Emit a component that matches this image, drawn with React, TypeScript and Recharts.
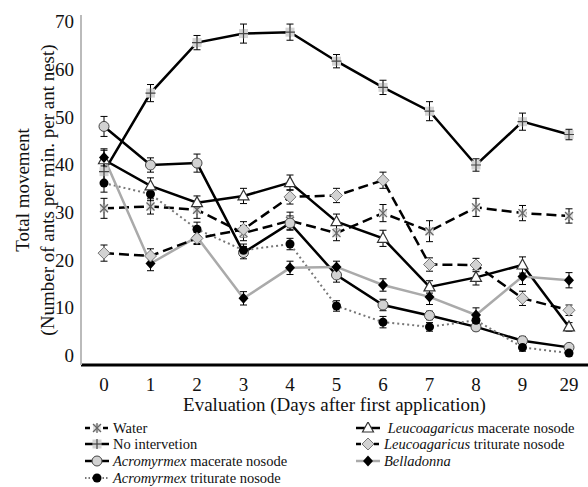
import React from 'react';
import { LineChart, Line, XAxis, YAxis, ErrorBar, Label } from 'recharts';

const days = ['0', '1', '2', '3', '4', '5', '6', '7', '8', '9', '29'];

const water = [30.8, 31.2, 30.5, 25.6, 28.2, 25.6, 29.8, 26.0, 31.0, 29.8, 29.2];
const waterErr = [2.1, 1.6, 1.8, 1.6, 1.8, 1.6, 1.8, 2.2, 1.9, 1.6, 1.5];
const noInt = [38.5, 55.0, 65.6, 67.5, 67.8, 61.7, 56.2, 51.2, 39.9, 49.0, 46.3];
const noIntErr = [2.3, 1.8, 1.5, 2.0, 1.7, 1.4, 1.5, 2.0, 1.3, 1.8, 1.1];
const acroMac = [48.0, 39.9, 40.3, 21.5, 27.7, 16.8, 10.5, 8.3, 5.9, 3.0, 1.6];
const acroMacErr = [2.1, 1.5, 1.9, 1.3, 1.5, 1.5, 1.2, 0.9, 0.8, 0.9, 0.6];
const acroTrit = [36.1, 33.8, 26.4, 22.0, 23.3, 10.3, 6.9, 5.9, 7.3, 1.6, 0.4];
const acroTritErr = [1.9, 1.4, 1.5, 1.3, 1.2, 1.1, 1.2, 0.9, 1.2, 0.8, 0.6];
const leucoMac = [41.0, 35.5, 32.0, 33.4, 36.2, 28.0, 24.5, 14.3, 16.3, 18.9, 5.9];
const leucoMacErr = [2.0, 1.7, 1.4, 1.6, 1.6, 1.6, 1.7, 1.3, 1.6, 1.7, 0.9];
const leucoTrit = [21.4, 20.8, 24.5, 26.4, 33.2, 33.5, 36.7, 19.0, 18.9, 11.9, 9.4];
const leucoTritErr = [1.7, 1.5, 1.3, 1.6, 1.5, 1.5, 1.7, 1.4, 1.4, 1.5, 1.1];
const bell = [41.5, 19.2, 24.8, 11.9, 18.3, 18.5, 14.7, 12.2, 8.4, 16.5, 15.7];
const bellErr = [1.8, 1.5, 1.4, 1.4, 1.4, 1.2, 1.3, 1.6, 1.5, 1.7, 1.6];

const yTicks = [0, 10, 20, 30, 40, 50, 60, 70];

const data = days.map((d, i) => ({
  day: d,
  water: water[i], waterErr: waterErr[i],
  noInt: noInt[i], noIntErr: noIntErr[i],
  acroMac: acroMac[i], acroMacErr: acroMacErr[i],
  acroTrit: acroTrit[i], acroTritErr: acroTritErr[i],
  leucoMac: leucoMac[i], leucoMacErr: leucoMacErr[i],
  leucoTrit: leucoTrit[i], leucoTritErr: leucoTritErr[i],
  bell: bell[i], bellErr: bellErr[i],
}));

const FONT = '"Liberation Serif", "DejaVu Serif", serif';

type Shape = (x: number, y: number) => React.ReactNode;

const asterisk: Shape = (x, y) => (
  <g>
    <rect x={x - 4} y={y - 4} width={8} height={8} fill="#e2e2e2" />
    <g stroke="#666" strokeWidth={1.3}>
      <line x1={x - 4} y1={y - 4} x2={x + 4} y2={y + 4} />
      <line x1={x - 4} y1={y + 4} x2={x + 4} y2={y - 4} />
      <line x1={x} y1={y - 5} x2={x} y2={y + 5} />
    </g>
  </g>
);
const plus: Shape = (x, y) => (
  <g>
    <rect x={x - 4.5} y={y - 4.5} width={9} height={9} fill="#d4d4d4" />
    <g stroke="#444" strokeWidth={1.2}>
      <line x1={x - 5} y1={y} x2={x + 5} y2={y} />
      <line x1={x} y1={y - 5} x2={x} y2={y + 5} />
    </g>
  </g>
);
const circleGray: Shape = (x, y) => <circle cx={x} cy={y} r={5} fill="#d2d2d2" stroke="#444" strokeWidth={1} />;
const circleBlack: Shape = (x, y) => <circle cx={x} cy={y} r={4.5} fill="#000" />;
const triangle: Shape = (x, y) => (
  <polygon points={`${x},${y - 6} ${x - 5.5},${y + 4} ${x + 5.5},${y + 4}`} fill="#fff" stroke="#333" strokeWidth={1.2} />
);
const diamondGray: Shape = (x, y) => (
  <polygon points={`${x},${y - 6} ${x + 6},${y} ${x},${y + 6} ${x - 6},${y}`} fill="#d2d2d2" stroke="#777" strokeWidth={1} />
);
const diamondBlack: Shape = (x, y) => (
  <polygon points={`${x},${y - 5.5} ${x + 5},${y} ${x},${y + 5.5} ${x - 5},${y}`} fill="#000" />
);

const mkDot = (fn: Shape) => (p: any) => {
  const { cx, cy, index } = p;
  if (cx == null || cy == null) return <g key={`d${index}`} />;
  return <g key={`d${index}`}>{fn(cx, cy)}</g>;
};

type Series = {
  key: string;
  err: string;
  stroke: string;
  width: number;
  dash?: string;
  shape: Shape;
};

const series: Series[] = [
  { key: 'noInt', err: 'noIntErr', stroke: '#000', width: 2.5, shape: plus },
  { key: 'water', err: 'waterErr', stroke: '#000', width: 2.5, dash: '10 5', shape: asterisk },
  { key: 'acroMac', err: 'acroMacErr', stroke: '#000', width: 2.5, shape: circleGray },
  { key: 'acroTrit', err: 'acroTritErr', stroke: '#777', width: 2, dash: '2 3', shape: circleBlack },
  { key: 'leucoMac', err: 'leucoMacErr', stroke: '#000', width: 2.5, shape: triangle },
  { key: 'bell', err: 'bellErr', stroke: '#aaa', width: 2.5, shape: diamondBlack },
  { key: 'leucoTrit', err: 'leucoTritErr', stroke: '#000', width: 2.5, dash: '10 5', shape: diamondGray },
];

const legendIcon = (stroke: string, width: number, dash: string | undefined, shape: Shape) => (
  <svg width={24} height={12} style={{ display: 'block' }}>
    <line x1={0} y1={6} x2={24} y2={6} stroke={stroke} strokeWidth={width} strokeDasharray={dash ? (dash === '2 3' ? '1.5 2' : '5 4') : undefined} />
    {shape(12, 6)}
  </svg>
);

const findS = (k: string) => series.find((s) => s.key === k)!;

const legendRows: { key: string; left: number; top: number; label: React.ReactNode }[] = [
  { key: 'water', left: 85, top: 428, label: <span>Water</span> },
  { key: 'noInt', left: 85, top: 444, label: <span>No intervetion</span> },
  { key: 'acroMac', left: 85, top: 461, label: <span><i>Acromyrmex</i> macerate nosode</span> },
  { key: 'acroTrit', left: 85, top: 478, label: <span><i>Acromyrmex</i> triturate nosode</span> },
  { key: 'leucoMac', left: 356, top: 428, label: <span>&nbsp;<i>Leucoagaricus</i> macerate nosode</span> },
  { key: 'leucoTrit', left: 356, top: 444, label: <span><i>Leucoagaricus</i> triturate nosode</span> },
  { key: 'bell', left: 356, top: 461, label: <span><i>Belladonna</i></span> },
];

const LegendBlock = () => (
  <div style={{ position: 'absolute', left: 0, top: 0, width: 588, height: 0, fontFamily: FONT, fontSize: 14.5, color: '#111' }}>
    {legendRows.map((r) => {
      const s = findS(r.key);
      return (
        <div key={r.key} style={{ position: 'absolute', left: r.left, top: r.top - 8, height: 16, display: 'flex', alignItems: 'center', whiteSpace: 'nowrap', lineHeight: '16px' }}>
          {legendIcon(s.stroke, s.width, s.dash, s.shape)}
          <span style={{ marginLeft: 4 }}>{r.label}</span>
        </div>
      );
    })}
  </div>
);

const YTitle = (props: any) => {
  const vb = props.viewBox || { x: 0, y: 15, width: 81, height: 350 };
  const cy = vb.y + vb.height / 2;
  return (
    <g fontFamily={FONT} fontSize={19} fill="#111">
      <text x={22} y={cy} transform={`rotate(-90, 22, ${cy})`} textAnchor="middle" dominantBaseline="central">Total movement</text>
      <text x={47} y={cy} transform={`rotate(-90, 47, ${cy})`} textAnchor="middle" dominantBaseline="central">(Number of ants per min. per ant nest)</text>
    </g>
  );
};

const XTitle = (props: any) => {
  const vb = props.viewBox || { x: 81, y: 365, width: 507, height: 50 };
  return (
    <text x={vb.x + vb.width / 2} y={vb.y + 39} textAnchor="middle" dominantBaseline="central" fontFamily={FONT} fontSize={19} fill="#111">
      Evaluation (Days after first application)
    </text>
  );
};

export default function App() {
  return (
    <div style={{ position: 'absolute', left: 0, top: 0, width: 588, height: 487, background: '#fff' }}>
      <LineChart width={588} height={487} data={data} margin={{ top: 15, right: 0, bottom: 72, left: 0 }}>
        <XAxis
          dataKey="day"
          type="category"
          padding={{ left: 23, right: 19 }}
          height={50}
          axisLine={{ stroke: '#000', strokeWidth: 3 }}
          tickLine={false}
          tickSize={0}
          tickMargin={13}
          tick={{ fontFamily: FONT, fontSize: 19, fill: '#111' }}
          interval={0}
        >
          <Label content={<XTitle />} />
        </XAxis>
        <YAxis
          width={81}
          domain={[-2.1, 71.4]}
          ticks={yTicks}
          allowDataOverflow
          axisLine={{ stroke: '#bbb', strokeWidth: 2 }}
          tickLine={false}
          tickSize={0}
          tickMargin={7}
          tick={{ fontFamily: FONT, fontSize: 19, fill: '#111' }}
          interval={0}
        >
          <Label content={<YTitle />} />
        </YAxis>
        {series.map((s) => (
          <Line
            key={s.key}
            dataKey={s.key}
            stroke={s.stroke}
            strokeWidth={s.width}
            strokeDasharray={s.dash}
            dot={mkDot(s.shape)}
            activeDot={false}
            isAnimationActive={false}
          >
            <ErrorBar dataKey={s.err} width={3.5} stroke="#000" strokeWidth={1} direction="y" isAnimationActive={false} />
          </Line>
        ))}
      </LineChart>
      <LegendBlock />
    </div>
  );
}
